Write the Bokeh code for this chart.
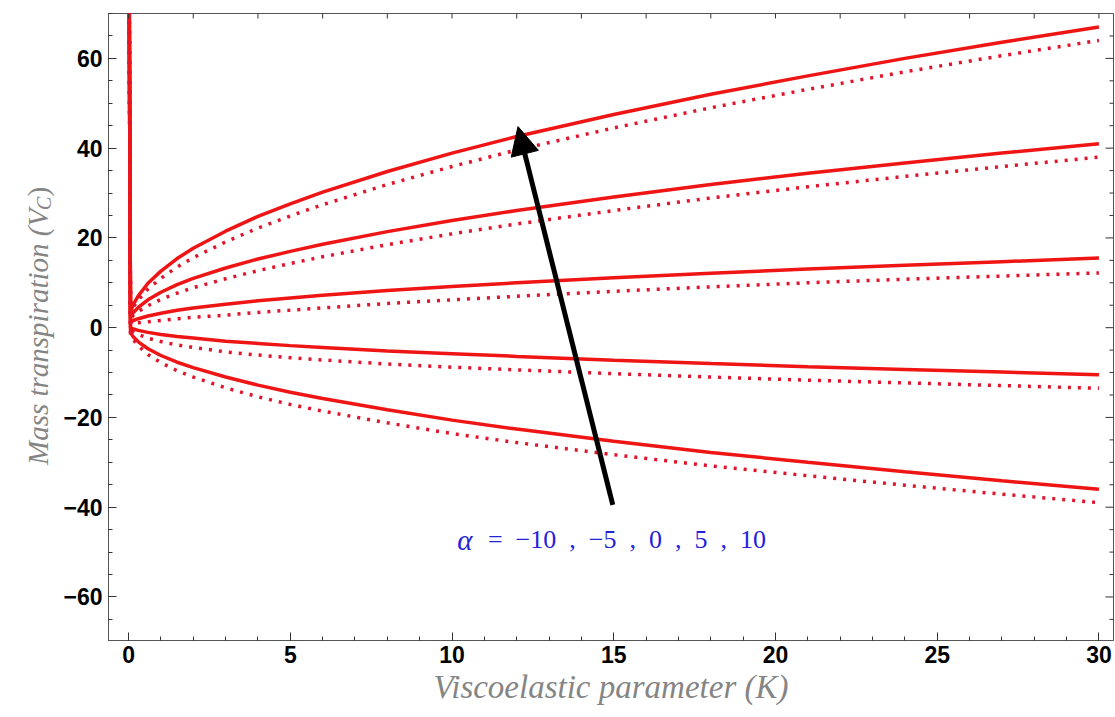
import math
from bokeh.plotting import figure
from bokeh.layouts import row
from bokeh.models import (Range1d, SingleIntervalTicker, Arrow, NormalHead, Label)
from bokeh.embed import file_html
from bokeh.resources import INLINE

# ---- data ----
K = [0.02, 0.06, 0.15, 0.3, 0.6, 1, 1.5, 2, 3, 4, 5, 6, 8, 10, 12, 15, 18, 21, 24, 27, 30]
alphas = [-10, -5, 0, 5, 10]

solid_m10 = [75, -1.1, -2.1, -3.15, -4.7, -6.2, -7.7, -8.9, -11.0, -12.8, -14.4, -15.8, -18.3, -20.6, -22.6, -25.3, -27.8, -30.0, -32.1, -34.1, -36.0]
solid_m5 = [75, 0.0, -0.3, -0.6, -1.05, -1.5, -1.95, -2.3, -3.0, -3.5, -4.0, -4.4, -5.2, -5.8, -6.4, -7.25, -8.0, -8.7, -9.3, -9.9, -10.5]
solid_0 = [75, 1.2, 1.6, 2.0, 2.6, 3.2, 3.9, 4.4, 5.2, 6.0, 6.6, 7.2, 8.3, 9.2, 10.0, 11.1, 12.1, 13.1, 13.9, 14.7, 15.5]
solid_5 = [75, 2.3, 3.4, 4.5, 6.2, 7.9, 9.6, 11.0, 13.3, 15.3, 17.0, 18.6, 21.4, 23.9, 26.1, 29.1, 31.9, 34.4, 36.7, 38.9, 41.0]
solid_10 = [75, 3.5, 5.2, 7.1, 9.9, 12.6, 15.4, 17.7, 21.5, 24.8, 27.6, 30.2, 34.8, 38.9, 42.6, 47.5, 52.0, 56.1, 60.0, 63.6, 67.0]

dotted_m10 = [75, -1.4, -2.7, -4.05, -6.0, -7.8, -9.6, -11.0, -13.4, -15.4, -17.1, -18.6, -21.2, -23.6, -25.6, -28.3, -30.8, -33.0, -35.1, -37.1, -39.0]
dotted_m5 = [75, -0.3, -0.9, -1.5, -2.35, -3.1, -3.85, -4.4, -5.4, -6.1, -6.7, -7.2, -8.1, -8.8, -9.4, -10.25, -11.0, -11.7, -12.3, -12.9, -13.5]
dotted_0 = [75, 0.9, 1.0, 1.1, 1.3, 1.6, 2.0, 2.3, 2.8, 3.4, 3.9, 4.4, 5.4, 6.2, 7.0, 8.1, 9.1, 10.0, 10.8, 11.5, 12.2]
dotted_5 = [75, 2.0, 2.8, 3.6, 4.9, 6.3, 7.7, 8.9, 10.9, 12.7, 14.3, 15.8, 18.5, 20.9, 23.1, 26.1, 28.9, 31.4, 33.7, 35.9, 38.0]
dotted_10 = [75, 3.2, 4.6, 6.2, 8.6, 11.0, 13.5, 15.6, 19.1, 22.2, 24.9, 27.4, 31.9, 35.9, 39.6, 44.5, 49.0, 53.1, 57.0, 60.6, 64.0]

solid_series = [solid_m10, solid_m5, solid_0, solid_5, solid_10]
dotted_series = [dotted_m10, dotted_m5, dotted_0, dotted_5, dotted_10]

y_ticks = [-60, -40, -20, 0, 20, 40, 60]
y_tick_labels = ["\u221260", "\u221240", "\u221220", "0", "20", "40", "60"]
y_minor = [-65, -55, -50, -45, -35, -30, -25, -15, -10, -5, 5, 10, 15, 25, 30, 35, 45, 50, 55, 65]
top_ticks = [0, 2, 4, 6, 8, 10, 12, 14, 16, 18, 20, 22, 24, 26, 28, 30]

arrow_start = (14.97, -39.5)
arrow_end = (12.04, 44.8)
alpha_sym = "\u03b1"
alpha_values = "=\u2002\u221210\u2002,\u2002\u22125\u2002,\u20020\u2002,\u20025\u2002,\u200210"

X0, X1 = -0.62, 30.45
Y0, Y1 = -69.7, 70.0

LEFT_W = 60

# ---- main figure ----
p = figure(width=1115 - LEFT_W, height=717, output_backend="svg", toolbar_location=None,
           x_range=Range1d(X0, X1), y_range=Range1d(Y0, Y1),
           min_border_left=107 - LEFT_W, min_border_right=2, min_border_top=13,
           min_border_bottom=77)
p.grid.visible = False
p.outline_line_color = "#555555"

RED = "#f01515"
for ys in solid_series:
    p.line(K, ys, line_color=RED, line_width=3.5)
for ys in dotted_series:
    p.line(K, ys, line_color="#e0142c", line_width=3.5, line_dash="3 7", line_cap="butt")

def style_axis(ax):
    ax.axis_line_color = "#555555"
    ax.major_tick_in = 8
    ax.major_tick_out = 0
    ax.minor_tick_in = 4
    ax.minor_tick_out = 0
    ax.major_tick_line_color = "#333333"
    ax.minor_tick_line_color = "#333333"

xa = p.xaxis[0]
xa.ticker = SingleIntervalTicker(interval=5, num_minor_ticks=5)
style_axis(xa)
xa.major_label_text_font = "Liberation Sans Narrow, Liberation Sans"
xa.major_label_text_font_style = "bold"
xa.major_label_text_font_size = "23px"
xa.major_label_text_color = "black"
xa.major_label_standoff = 5
xa.axis_label = "Viscoelastic parameter (K)"
xa.axis_label_text_font = "Liberation Serif"
xa.axis_label_text_font_style = "italic"
xa.axis_label_text_font_size = "33px"
xa.axis_label_text_color = "#858585"
xa.axis_label_standoff = 3

ya = p.yaxis[0]
ya.ticker = SingleIntervalTicker(interval=20, num_minor_ticks=4)
style_axis(ya)
ya.major_label_overrides = {t: s for t, s in zip(y_ticks, y_tick_labels)}
ya.major_label_text_font = "Liberation Sans"
ya.major_label_text_font_style = "bold"
ya.major_label_text_font_size = "23px"
ya.major_label_text_color = "black"
ya.major_label_standoff = 6

# inward ticks on the top and right frame edges (tick length in data units)
top_len = 5 / 4.49
p.segment(x0=top_ticks, x1=top_ticks, y0=[Y1] * len(top_ticks),
          y1=[Y1 - top_len] * len(top_ticks), line_color="#333333", line_width=1)
maj_len = 8 / 32.4
min_len = 4 / 32.4
p.segment(x0=[X1] * len(y_ticks), x1=[X1 - maj_len] * len(y_ticks), y0=y_ticks, y1=y_ticks,
          line_color="#333333", line_width=1)
p.segment(x0=[X1] * len(y_minor), x1=[X1 - min_len] * len(y_minor), y0=y_minor, y1=y_minor,
          line_color="#333333", line_width=1)

# arrow and annotation
p.add_layout(Arrow(x_start=arrow_start[0], y_start=arrow_start[1],
                   x_end=arrow_end[0], y_end=arrow_end[1],
                   line_color="black", line_width=5,
                   end=NormalHead(size=28, fill_color="black", line_color="black")))
p.add_layout(Label(x=10.4, y=-47.3, text=alpha_sym, text_align="center",
                   text_baseline="middle", text_font="Liberation Serif",
                   text_font_style="italic", text_font_size="29px", text_color="#2323d8"))
p.add_layout(Label(x=11.11, y=-47.3, text=alpha_values, text_align="left",
                   text_baseline="middle", text_font="Liberation Serif",
                   text_font_size="26px", text_color="#2323d8"))

# ---- narrow figure holding the rotated y-axis title with subscript ----
# its frame is aligned with the main frame, so it shares the main y range
lab = figure(width=LEFT_W, height=717, output_backend="svg", toolbar_location=None,
             x_range=Range1d(0, LEFT_W), y_range=Range1d(Y0, Y1),
             x_axis_type=None, y_axis_type=None, min_border=0)
lab.grid.visible = False
lab.outline_line_color = None
lab_color = "#858585"
lab.add_layout(Label(x=37, y=-30.6, text="Mass transpiration (V", angle=math.pi / 2,
                     text_align="left", text_baseline="alphabetic",
                     text_font="Liberation Serif", text_font_style="italic",
                     text_font_size="29px", text_color=lab_color))
lab.add_layout(Label(x=43, y=26.2, text="C", angle=math.pi / 2,
                     text_align="left", text_baseline="alphabetic",
                     text_font="Liberation Serif", text_font_style="italic",
                     text_font_size="20px", text_color=lab_color))
lab.add_layout(Label(x=37, y=29.2, text=")", angle=math.pi / 2,
                     text_align="left", text_baseline="alphabetic",
                     text_font="Liberation Serif", text_font_style="normal",
                     text_font_size="29px", text_color=lab_color))

layout = row(lab, p, spacing=0)
open("out.html", "w").write(file_html(layout, INLINE))
